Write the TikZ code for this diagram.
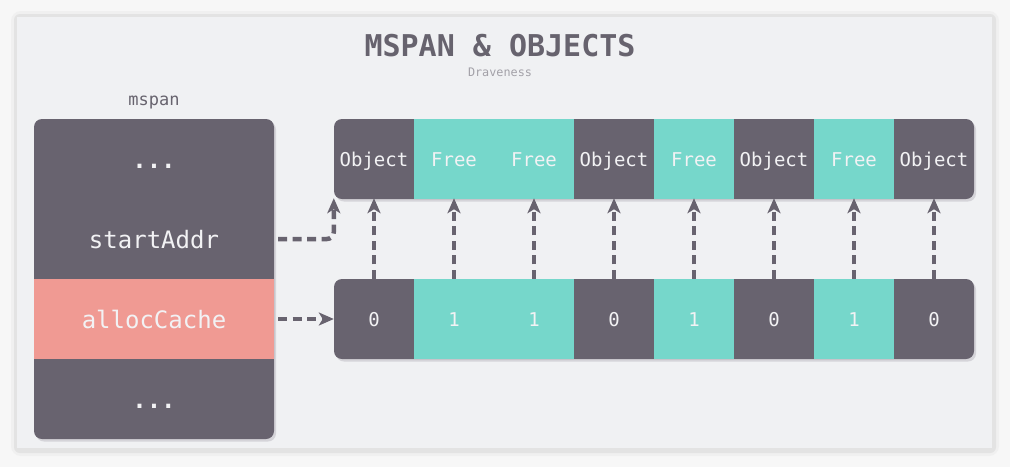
\documentclass[tikz,border=0pt]{standalone}
\usepackage{fontspec}
\usetikzlibrary{arrows.meta}
\newfontfamily\mono{DejaVu Sans Mono}
\definecolor{dark}{HTML}{68636F}
\definecolor{teal}{HTML}{76D7CB}
\definecolor{pinkc}{HTML}{F09A93}
\definecolor{panel}{HTML}{F0F1F3}
\definecolor{txt}{HTML}{F2F2F4}
\definecolor{titlec}{HTML}{67636E}
\definecolor{subc}{HTML}{A3A1A8}
\definecolor{shadowc}{HTML}{C4C2C8}
\tikzset{
  cell/.style={minimum width=80pt, minimum height=80pt, inner sep=0pt, text height=15pt, text depth=0pt, text=txt, font=\mono\fontsize{19}{19}\selectfont},
  freecell/.style={cell, fill=teal},
  rowcell/.style={minimum width=240pt, minimum height=80pt, inner sep=0pt, text height=18pt, text depth=0pt, text=txt, font=\mono\fontsize{24}{24}\selectfont},
  arr/.style={draw=dark, line width=4.5pt, dash pattern=on 9pt off 5.5pt, -{Stealth[length=15pt,width=13pt,inset=4pt]}},
  darkbox/.style={fill=dark, rounded corners=8pt},
  boxshadow/.style={fill=shadowc, rounded corners=8pt, opacity=0.6},
}
\begin{document}
\begin{tikzpicture}[x=1pt,y=-1pt]
\useasboundingbox (0,0) rectangle (1010,467);
\fill[white!97!black] (0,0) rectangle (1010,467);
% panel with shadow
\fill[white!94!black, rounded corners=10pt] (11,11) rectangle (999,456);
\fill[white!89!black, rounded corners=6pt] (14,14) rectangle (996,453);
\fill[panel] (17,17) rectangle (992,448);
% title
\node[text=titlec, font=\mono\bfseries\fontsize{30}{30}\selectfont] (title) at (500,46) {MSPAN \& OBJECTS};
\node[text=subc, font=\mono\fontsize{11.8}{12}\selectfont] (sub) at (500,72) {Draveness};
\node[text=titlec, font=\mono\fontsize{17}{17}\selectfont] (mspanlbl) at (154,103) {mspan};
% box shadows
\fill[boxshadow] (36,121.5) rectangle (276,441.5);
\fill[boxshadow] (336,121.5) rectangle (976,201.5);
\fill[boxshadow] (336,281.5) rectangle (976,361.5);
% box backgrounds
\fill[darkbox] (34,119) rectangle (274,439);
\fill[darkbox] (334,119) rectangle (974,199);
\fill[darkbox] (334,279) rectangle (974,359);
% mspan rows
\node[rowcell] (r1) at (154,159) {\textbf{...}};
\node[rowcell] (r2) at (154,239) {startAddr};
\node[rowcell, fill=pinkc] (r3) at (154,319) {allocCache};
\node[rowcell] (r4) at (154,399) {\textbf{...}};
% objects
\node[cell] (o1) at (374,159) {Object};
\node[freecell] (o2) at (454,159) {Free};
\node[freecell] (o3) at (534,159) {Free};
\node[cell] (o4) at (614,159) {Object};
\node[freecell] (o5) at (694,159) {Free};
\node[cell] (o6) at (774,159) {Object};
\node[freecell] (o7) at (854,159) {Free};
\node[cell] (o8) at (934,159) {Object};
% bits
\node[cell] (b1) at (374,319) {0};
\node[freecell] (b2) at (454,319) {1};
\node[freecell] (b3) at (534,319) {1};
\node[cell] (b4) at (614,319) {0};
\node[freecell] (b5) at (694,319) {1};
\node[cell] (b6) at (774,319) {0};
\node[freecell] (b7) at (854,319) {1};
\node[cell] (b8) at (934,319) {0};
% arrows
\foreach \i in {1,...,8} {
  \draw[arr] (b\i.north) -- ([yshift=1pt]o\i.south);
}
\draw[arr, rounded corners=7pt] ([xshift=4pt]r2.east) -| ([yshift=1pt]o1.south west);
\draw[arr] ([xshift=4pt]r3.east) -- (b1.west);
\end{tikzpicture}
\end{document}
